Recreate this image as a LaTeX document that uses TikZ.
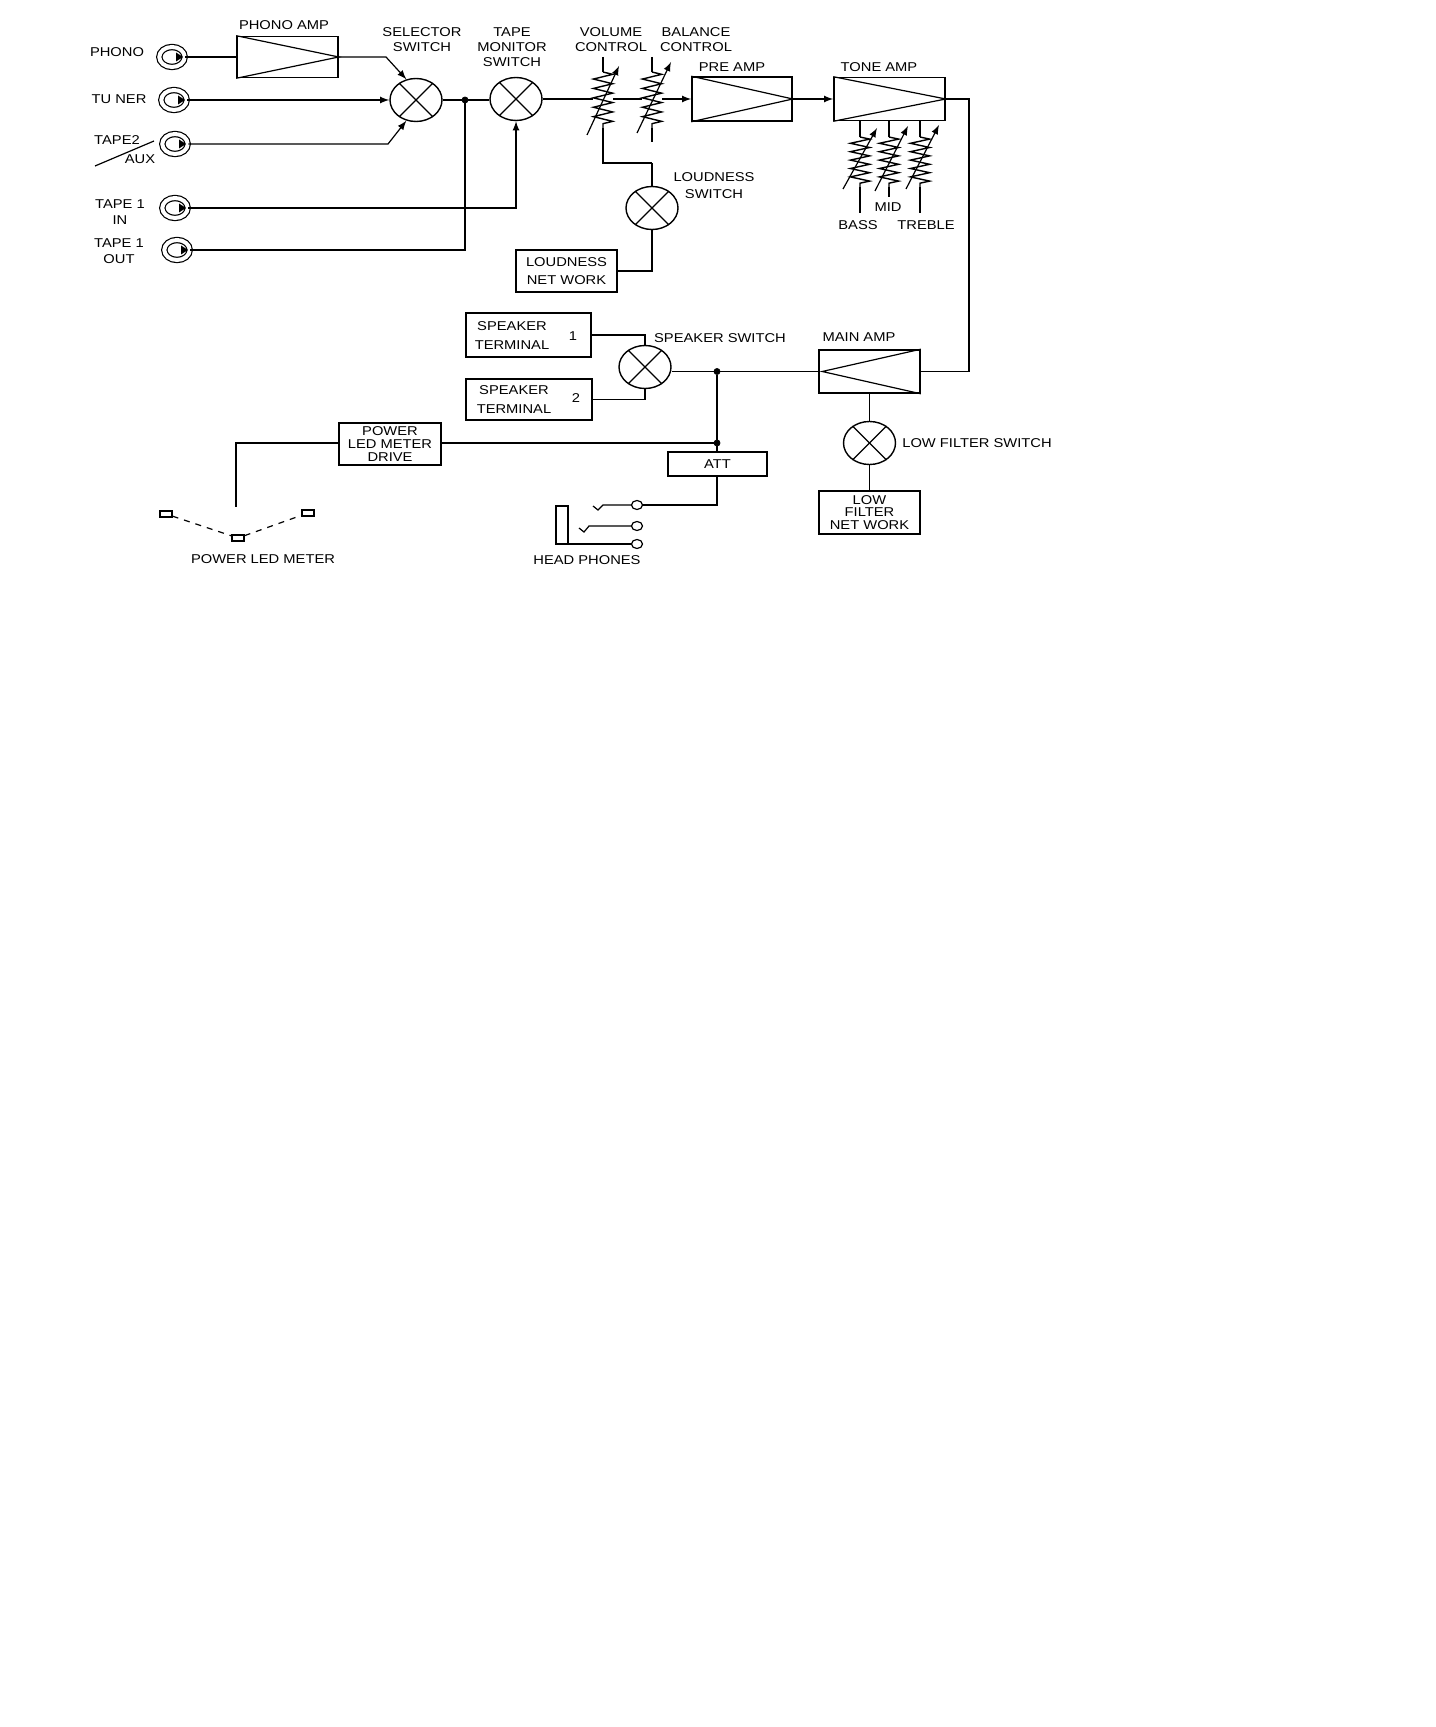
\documentclass[tikz,border=0pt]{standalone}
\usepackage{fontspec}
\setmainfont[FakeStretch=1.15]{Liberation Sans}
\usetikzlibrary{arrows,calc,shapes.geometric,decorations.pathmorphing}
\tikzset{>=latex}
\tikzset{
	txt/.style={inner sep=0pt, align=center, font=\fontsize{6.4}{7.6}\selectfont},
	box/.style={draw, line width=0.8pt, inner sep=0pt, align=center, font=\fontsize{6.4}{7.6}\selectfont},
	xswitch/.style={draw, ellipse, line width=0.7pt, inner sep=0pt, minimum width=26pt, minimum height=21.5pt},
	jack/.style={draw, ellipse, line width=0.6pt, double distance=2pt, inner sep=0pt, minimum width=12.7pt, minimum height=10pt},
	dot/.style={draw, circle, fill, inner sep=0pt, minimum size=3pt},
	lamp/.style={draw, line width=0.6pt, inner sep=0pt, minimum width=6pt, minimum height=3pt},
	contact/.style={draw, ellipse, line width=0.6pt, inner sep=0pt, minimum width=5.5pt, minimum height=4.5pt},
	coil/.style={line width=0.7pt, decorate, decoration={zigzag, amplitude=4.8pt, segment length=#1}},
	wire/.style={line width=0.6pt},
	bus/.style={line width=0.9pt}
}
\begin{document}
\begin{tikzpicture}[x=0.5pt,y=-0.5pt]
	\useasboundingbox (0,0) rectangle (1435,1727);

	% input jacks
	\foreach \nm/\xx/\yy in {phono/172/57,tuner/174/100,tapetwo/175/144,tapein/175/208,tapeout/177/250}{
		\node[jack] (\nm) at (\xx,\yy) {};
		\fill (\xx+4,\yy-4.5) -- (\xx+11,\yy) -- (\xx+4,\yy+4.5) -- cycle;
	}
	\node[txt] (lphono) at (117,52) {PHONO};
	\node[txt] (ltuner) at (119,99) {TU NER};
	\node[txt] (ltapetwo) at (117,140) {TAPE2};
	\node[txt] (laux) at (140,159) {AUX};
	\coordinate (slasha) at (95,166);
	\coordinate (slashb) at (154,141);
	\draw[wire] (slasha) -- (slashb);
	\node[txt] (ltapein) at (120,212) {TAPE 1\\[0.5pt]IN};
	\node[txt] (ltapeout) at (119,251) {TAPE 1\\[0.5pt]OUT};

	% amps
	\node[box, minimum width=50.5pt, minimum height=20.5pt] (phonoamp) at (287.5,57) {};
	\node[box, minimum width=50pt, minimum height=22pt] (preamp) at (742,99) {};
	\node[box, minimum width=55.5pt, minimum height=21.5pt] (toneamp) at (889.5,99) {};
	\node[box, minimum width=50.5pt, minimum height=21.5pt] (mainamp) at (869.5,371.5) {};
	\foreach \nm in {phonoamp,preamp,toneamp}
		\draw[wire] (\nm.north west) -- (\nm.east) -- (\nm.south west);
	\draw[wire] (mainamp.north east) -- ($(mainamp.west)+(4,0)$) -- (mainamp.south east);
	\node[txt] (lphonoamp) at (284,25) {PHONO AMP};
	\node[txt] (lpreamp) at (732,67) {PRE AMP};
	\node[txt] (ltoneamp) at (879,67) {TONE AMP};
	\node[txt] (lmainamp) at (859,337) {MAIN AMP};

	% switches
	\node[xswitch] (selector) at (416,100) {};
	\node[xswitch] (monitor) at (516,99) {};
	\node[xswitch] (loudness) at (652,208) {};
	\node[xswitch] (speaker) at (645,367) {};
	\node[xswitch] (lowfilter) at (869.5,443) {};
	\foreach \nm in {selector,monitor,loudness,speaker,lowfilter}{
		\draw[wire] (\nm.45) -- (\nm.225);
		\draw[wire] (\nm.135) -- (\nm.315);
	}
	\node[txt] (lselector) at (422,40) {SELECTOR\\SWITCH};
	\node[txt] (lmonitor) at (512,47) {TAPE\\MONITOR\\SWITCH};
	\node[txt] (lloudness) at (714,185.5) {LOUDNESS\\[0.8pt]SWITCH};
	\node[txt] (lspeaker) at (720,338) {SPEAKER SWITCH};
	\node[txt] (llowfilter) at (977,443) {LOW FILTER SWITCH};

	% pots
	\foreach \nm/\xx/\ya/\yb/\sl/\ax/\ay/\bx/\by in {
		vol/603/72/128/4.7pt/587/135/619/66,
		bal/652/72/128/4.7pt/637/133/671/62,
		bass/860/137/187/4.2pt/843/189/877/128,
		mid/889/137/187/4.2pt/875/191/908/126,
		treble/920/137/187/4.2pt/906/189/939/125}{
		\coordinate (\nm a) at (\xx,\ya);
		\coordinate (\nm b) at (\xx,\yb);
		\coordinate (\nm w) at (\xx-10,99);
		\coordinate (\nm e) at (\xx+10,99);
		\coordinate (\nm p) at (\ax,\ay);
		\coordinate (\nm q) at (\bx,\by);
		\draw[coil=\sl] (\nm a) -- (\nm b);
		\draw[wire,->] (\nm p) -- (\nm q);
	}
	\node[txt] (lvol) at (611,39.5) {VOLUME\\CONTROL};
	\node[txt] (lbal) at (696,39.5) {BALANCE\\CONTROL};
	\node[txt] (lmid) at (888,207) {MID};
	\node[txt] (lbass) at (858,225) {BASS};
	\node[txt] (ltreble) at (926,225) {TREBLE};

	% boxes with text
	\node[box, minimum width=50.5pt, minimum height=21pt] (loudnet) at (566.5,271) {LOUDNESS\\[1.6pt]NET WORK};
	\node[box, minimum width=62.5pt, minimum height=22pt] (spkone) at (528.5,335) {};
	\node[box, minimum width=63pt, minimum height=20.5pt] (spktwo) at (529,399.5) {};
	\node[txt] (lspkone) at (512,335.5) {SPEAKER\\[2pt]TERMINAL};
	\node[txt] (lspktwo) at (514,399.5) {SPEAKER\\[2pt]TERMINAL};
	\node[txt] (lone) at (573,336) {1};
	\node[txt] (ltwo) at (576,398) {2};
	\node[box, minimum width=51pt, minimum height=21pt] (meterdrive) at (390,444) {POWER\\[-1.3pt]LED METER\\[-1.3pt]DRIVE};
	\node[box, minimum width=49.5pt, minimum height=12pt] (att) at (717.5,464) {ATT};
	\node[box, minimum width=50.5pt, minimum height=21.5pt] (lownet) at (869.5,512.5) {LOW\\[-1.2pt]FILTER\\[-1.2pt]NET WORK};

	% top signal path
	\coordinate (phonobend) at (386,57);
	\coordinate (tapetwobend) at (388,144);
	\coordinate (loopjoin) at (465,100);
	\coordinate (outbend) at (465,250);
	\coordinate (inbend) at (516,208);
	\draw[wire] (phono.east) -- (phonoamp.west);
	\draw[wire,->] (phonoamp.east) -- (phonobend) -- (selector.115);
	\draw[wire,->] (tuner.east) -- (selector.west);
	\draw[wire,->] (tapetwo.east) -- (tapetwobend) -- (selector.245);
	\draw[wire,->] (tapein.east) -- (inbend) -- (monitor.south);
	\draw[wire] (tapeout.east) -- (outbend) -- (loopjoin);
	\node[dot] (joina) at (loopjoin) {};
	\draw[bus] (selector.east) -- (joina) -- (monitor.west |- joina);
	\draw[bus] (monitor.east) -- (volw);
	\draw[wire] (vole) -- (balw);
	\draw[wire,->] (bale) -- (preamp.west);
	\draw[wire,->] (preamp.east) -- (toneamp.west);

	% pot wires
	\coordinate (voltop) at (603,57);
	\coordinate (baltop) at (652,57);
	\coordinate (balend) at (652,142);
	\coordinate (volbend) at (603,163);
	\coordinate (loudbend) at (652,163);
	\draw[wire] (voltop) -- (vola);
	\draw[wire] (baltop) -- (bala);
	\draw[wire] (balb) -- (balend);
	\draw[bus] (volb) -- (volbend) -- (loudbend);
	\draw[wire] (loudbend) -- (loudness.north);
	\draw[wire] (loudness.south) |- (loudnet.east);
	\coordinate (bassend) at (860,213);
	\coordinate (midend) at (889,197);
	\coordinate (trebleend) at (920,213);
	\foreach \nm in {bass,mid,treble}{
		\draw[wire] (\nm a |- toneamp.south) -- (\nm a);
		\draw[wire] (\nm b) -- (\nm end);
	}

	% to the main amp
	\coordinate (toneout) at (969,99);
	\coordinate (mainin) at (969,371.5);
	\draw[wire] (toneamp.east) -- (toneout) -- (mainin) -- (mainamp.east);
	\draw[wire] (mainamp.south) -- (lowfilter.north);
	\draw[wire] (lowfilter.south) -- (lownet.north);

	% speakers
	\draw[wire] (spkone.east) -| (speaker.north);
	\draw[wire] (spktwo.east) -| (speaker.south);
	\node[dot] (joinb) at (717,371.5) {};
	\node[dot] (joinc) at (717,443) {};
	\draw[bus] (speaker.east |- joinb) -- (joinb) -- (mainamp.west);
	\draw[bus] (joinb) -- (joinc) -- (joinc |- att.north);
	\draw[wire] (meterdrive.east |- joinc) -- (joinc);

	% led meter
	\node[lamp] (lampa) at (166,514) {};
	\node[lamp] (lampb) at (238,538) {};
	\node[lamp] (lampc) at (308,513) {};
	\draw[wire,dashed] (lampa) -- (lampb) -- (lampc);
	\coordinate (drivebend) at (236,443);
	\coordinate (driveend) at (236,507);
	\draw[wire] (meterdrive.west |- drivebend) -- (drivebend) -- (driveend);
	\node[txt] (lmeter) at (263,559) {POWER LED METER};

	% head phones
	\node[contact] (conta) at (637,505) {};
	\node[contact] (contb) at (637,526) {};
	\node[contact] (contc) at (637,544) {};
	\node[draw, line width=0.8pt, inner sep=0pt, minimum width=6pt, minimum height=19pt] (plug) at (562,525) {};
	\coordinate (attbend) at (717,505);
	\coordinate (tipa) at (603,505);
	\coordinate (tipb) at (589,526);
	\draw[wire] (att.south -| attbend) -- (attbend) -- (conta);
	\draw[wire] (conta) -- (tipa) -- +(-5,5) -- +(-10,1);
	\draw[wire] (contb) -- (tipb) -- +(-5,6) -- +(-10,2);
	\draw[wire] (contc) -- (plug.south east |- contc);
	\node[txt] (lheadphones) at (587,560) {HEAD PHONES};
\end{tikzpicture}
\end{document}
